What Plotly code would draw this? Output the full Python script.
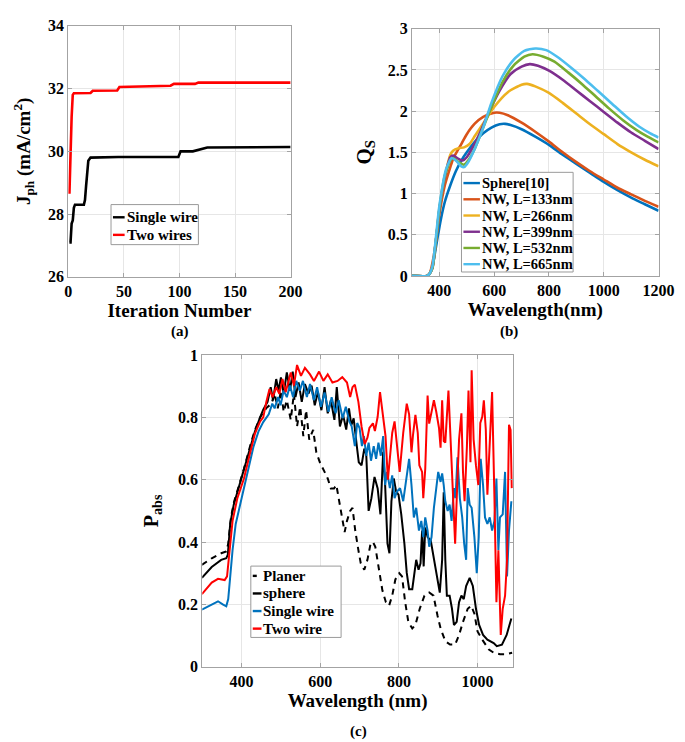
import plotly.graph_objects as go

# ---------------- Panel (a): photocurrent vs iteration ----------------
iter_single = [1, 2, 3, 4, 5, 6, 14, 15, 16, 17, 18, 20, 45, 99, 101, 112, 115, 120, 125, 200]
j_single = [27.1, 27.1, 27.7, 27.8, 28.2, 28.3, 28.3, 28.45, 28.9, 29.35, 29.7, 29.8, 29.82, 29.82, 30.0, 30.0,
            30.03, 30.09, 30.12, 30.14]
iter_two = [1, 2, 3, 4, 5, 20, 22, 44, 46, 92, 95, 114, 117, 200]
j_two = [28.65, 30.2, 31.1, 31.8, 31.85, 31.86, 31.93, 31.94, 32.05, 32.09, 32.15, 32.15, 32.19, 32.19]

# ---------------- Panel (b): scattering efficiency ----------------
qs_names = ["Sphere[10]", "NW, L=133nm", "NW, L=266nm", "NW, L=399nm", "NW, L=532nm", "NW, L=665nm"]
qs_colors = ["#0072BD", "#D95319", "#EDB120", "#7E2F8E", "#77AC30", "#4DBEEE"]
wl_sphere = [300, 355, 365, 375, 390, 405, 420, 440, 460, 480, 500, 530, 560, 590, 620, 640, 660, 700, 750, 800,
             850, 900, 950, 1000, 1050, 1100, 1150, 1200]
qs_sphere = [0, 0, 0.03, 0.12, 0.4, 0.68, 0.9, 1.1, 1.27, 1.4, 1.5, 1.63, 1.73, 1.8, 1.84, 1.845, 1.83, 1.78, 1.69,
             1.59, 1.47, 1.36, 1.25, 1.14, 1.04, 0.95, 0.87, 0.79]
wl_133 = [300, 355, 365, 380, 400, 420, 440, 450, 480, 500, 530, 560, 600, 620, 650, 700, 750, 800, 850, 900, 950,
          1000, 1050, 1100, 1150, 1200]
qs_133 = [0, 0, 0.03, 0.25, 0.75, 1.1, 1.32, 1.42, 1.6, 1.72, 1.85, 1.93, 1.98, 1.98, 1.95, 1.86, 1.75, 1.63, 1.5,
          1.38, 1.27, 1.17, 1.07, 0.99, 0.91, 0.84]
wl_266 = [300, 355, 365, 375, 400, 420, 440, 450, 470, 490, 510, 530, 560, 600, 650, 700, 720, 750, 800, 850, 900,
          950, 1000, 1050, 1100, 1150, 1200]
qs_266 = [0, 0, 0.03, 0.1, 0.8, 1.2, 1.47, 1.52, 1.55, 1.56, 1.6, 1.7, 1.85, 2.05, 2.23, 2.32, 2.33, 2.3, 2.22, 2.1,
          1.97, 1.84, 1.72, 1.6, 1.5, 1.41, 1.33]
wl_399 = [300, 355, 365, 375, 400, 420, 440, 450, 470, 485, 500, 520, 550, 580, 620, 660, 700, 730, 760, 800, 850,
          900, 950, 1000, 1050, 1100, 1150, 1200]
qs_399 = [0, 0, 0.03, 0.1, 0.8, 1.2, 1.44, 1.46, 1.42, 1.4, 1.44, 1.55, 1.75, 1.98, 2.25, 2.45, 2.54, 2.57, 2.55,
          2.49, 2.38, 2.25, 2.12, 1.99, 1.86, 1.74, 1.64, 1.54]
wl_532 = [300, 355, 365, 375, 400, 420, 440, 450, 470, 490, 505, 530, 560, 590, 630, 670, 710, 740, 780, 820, 870,
          920, 970, 1020, 1070, 1120, 1160, 1200]
qs_532 = [0, 0, 0.03, 0.1, 0.82, 1.22, 1.4, 1.43, 1.38, 1.35, 1.4, 1.55, 1.8, 2.05, 2.35, 2.55, 2.66, 2.69, 2.66,
          2.6, 2.47, 2.33, 2.18, 2.03, 1.89, 1.77, 1.69, 1.62]
wl_665 = [300, 355, 365, 375, 400, 425, 445, 460, 480, 490, 505, 530, 560, 590, 630, 670, 710, 750, 790, 830, 880,
          930, 980, 1030, 1080, 1130, 1170, 1200]
qs_665 = [0, 0, 0.03, 0.12, 0.85, 1.3, 1.43, 1.4, 1.33, 1.32, 1.38, 1.55, 1.8, 2.1, 2.42, 2.62, 2.73, 2.76, 2.74,
          2.66, 2.53, 2.39, 2.24, 2.09, 1.94, 1.81, 1.73, 1.68]
qs_wl = [wl_sphere, wl_133, wl_266, wl_399, wl_532, wl_665]
qs_val = [qs_sphere, qs_133, qs_266, qs_399, qs_532, qs_665]

# ---------------- Panel (c): absorption ----------------
planer_wl = [299, 324, 348, 361, 366, 373, 381, 393, 406, 422, 434, 447, 463, 476, 484, 492, 500, 507, 515, 525, 533,
             541, 549, 557, 564, 572, 582, 590, 599, 611, 619, 627, 635, 641, 648, 654, 662, 668, 676, 682, 689, 697,
             703, 712, 720, 728, 734, 740, 750, 758, 767, 775, 783, 791, 801, 808, 816, 824, 834, 842, 853, 865, 877,
             888, 898, 906, 918, 930, 943, 953, 963, 975, 984, 992, 1000, 1012, 1029, 1041, 1057, 1070, 1088]
planer_p = [.327, .348, .364, .37, .395, .48, .53, .58, .635, .71, .76, .80, .83, .844, .876, .829, .886, .818, .855,
            .792, .876, .771, .834, .74, .823, .729, .76, .688, .656, .625, .604, .572, .572, .583, .531, .479, .432,
            .468, .50, .51, .437, .374, .332, .311, .343, .395, .40, .385, .31, .245, .207, .196, .228, .28, .30, .29,
            .207, .144, .123, .134, .186, .228, .238, .228, .165, .123, .082, .071, .071, .102, .144, .186, .196, .17,
            .113, .087, .055, .045, .04, .04, .045]
sphere_wl = [299, 324, 348, 361, 365, 371, 380, 393, 406, 422, 434, 447, 455, 466, 474, 480, 488, 494, 500, 507, 515,
             523, 530, 537, 545, 553, 561, 570, 578, 586, 594, 603, 611, 619, 627, 636, 642, 650, 658, 666, 673, 679,
             685, 693, 698, 705, 712, 717, 723, 730, 738, 746, 753, 760, 765, 771, 776, 781, 787, 793, 799, 806, 814,
             820, 826, 834, 840, 844, 850, 855, 859, 863, 867, 873, 881, 889, 898, 904, 910, 914, 918, 922, 929, 935,
             940, 947, 953, 959, 965, 971, 980, 988, 996, 1004, 1014, 1025, 1041, 1049, 1062, 1074, 1086]
sphere_p = [.285, .32, .343, .348, .36, .458, .52, .578, .635, .705, .755, .80, .825, .85, .897, .855, .923, .886,
            .928, .876, .944, .886, .947, .865, .912, .85, .907, .876, .902, .839, .881, .823, .897, .813, .855, .792,
            .897, .771, .808, .761, .829, .775, .797, .708, .656, .646, .70, .68, .50, .54, .609, .572, .489, .69, .583,
            .395, .364, .531, .604, .562, .552, .489, .395, .301, .249, .249, .301, .343, .311, .332, .437, .322, .447,
            .416, .405, .343, .27, .238, .343, .56, .343, .228, .228, .186, .134, .144, .207, .228, .217, .259, .285,
            .259, .186, .134, .102, .087, .076, .066, .071, .102, .155]
single_wl = [299, 324, 340, 352, 361, 366, 371, 377, 385, 398, 414, 430, 443, 455, 469, 478, 484, 493, 499, 507, 515,
             523, 531, 539, 548, 556, 566, 574, 584, 592, 602, 611, 621, 629, 639, 647, 657, 665, 674, 680, 688, 694,
             700, 706, 711, 717, 723, 729, 736, 742, 748, 754, 760, 765, 770, 777, 783, 789, 795, 803, 811, 820, 826,
             832, 838, 844, 851, 857, 862, 867, 873, 877, 883, 889, 895, 900, 906, 910, 914, 918, 924, 929, 934, 940,
             944, 949, 955, 961, 966, 971, 975, 980, 985, 992, 998, 1003, 1008, 1014, 1019, 1025, 1031, 1037, 1043,
             1048, 1053, 1057, 1064, 1070, 1075, 1080, 1086]
single_p = [.183, .20, .21, .20, .194, .217, .29, .374, .458, .53, .614, .705, .755, .785, .81, .844, .829, .865, .839,
            .886, .865, .902, .865, .917, .886, .917, .865, .907, .855, .897, .834, .88, .818, .865, .813, .855, .797,
            .834, .787, .771, .708, .782, .766, .708, .74, .677, .719, .661, .708, .667, .719, .677, .74, .583, .625,
            .573, .614, .541, .562, .573, .531, .604, .667, .583, .479, .51, .437, .468, .416, .479, .437, .385, .416,
            .51, .583, .625, .593, .62, .583, .531, .50, .52, .468, .573, .541, .672, .541, .479, .395, .343, .573,
            .52, .51, .416, .30, .416, .667, .583, .479, .458, .479, .437, .468, .604, .374, .479, .489, .625, .29,
            .437, .531]
two_wl = [299, 324, 340, 357, 363, 369, 377, 389, 406, 422, 434, 447, 455, 463, 471, 479, 488, 496, 504, 512, 525,
          533, 541, 551, 561, 574, 584, 597, 608, 619, 631, 644, 656, 668, 676, 682, 688, 697, 705, 713, 720, 725, 734,
          739, 746, 752, 761, 766, 772, 777, 783, 789, 795, 802, 811, 820, 826, 832, 836, 842, 848, 852, 859, 862, 867,
          873, 877, 883, 889, 895, 902, 906, 910, 914, 918, 926, 932, 937, 943, 948, 953, 959, 963, 967, 973, 977, 982,
          985, 990, 996, 1002, 1007, 1012, 1016, 1021, 1025, 1029, 1037, 1043, 1048, 1053, 1059, 1064, 1070, 1075,
          1080, 1084, 1087]
two_p = [.233, .27, .282, .278, .29, .374, .468, .54, .604, .688, .748, .787, .80, .85, .891, .865, .897, .876, .923,
         .881, .944, .902, .968, .933, .959, .938, .917, .947, .917, .938, .912, .917, .929, .912, .865, .897, .905,
         .85, .771, .714, .735, .766, .781, .756, .802, .881, .792, .74, .60, .677, .75, .787, .708, .625, .75, .844,
         .81, .688, .745, .808, .75, .646, .625, .541, .635, .87, .78, .813, .855, .818, .766, .703, .855, .724, .719,
         .886, .708, .541, .395, .573, .729, .813, .625, .531, .708, .886, .656, .951, .729, .646, .583, .782, .802,
         .855, .761, .552, .656, .881, .541, .207, .374, .102, .186, .228, .343, .776, .76, .573]

W, H = 685, 742
FONT = "Liberation Serif, Times New Roman, serif"
AX = "#a3a3a3"
GRID = "#e6e6e6"


def px(x):
    return x / W


def py(y):
    return 1 - y / H


fig = go.Figure()

# panel (a)
fig.add_trace(go.Scatter(x=iter_single, y=j_single, mode="lines", line=dict(color="black", width=2.6),
                         name="Single wire", xaxis="x", yaxis="y", showlegend=False))
fig.add_trace(go.Scatter(x=iter_two, y=j_two, mode="lines", line=dict(color="#ff0000", width=2.6),
                         name="Two wires", xaxis="x", yaxis="y", showlegend=False))
# panel (b)
for wl, q, nm, col in zip(qs_wl, qs_val, qs_names, qs_colors):
    fig.add_trace(go.Scatter(x=wl, y=q, mode="lines", line=dict(color=col, width=2.6, shape="spline", smoothing=0.6),
                             name=nm, xaxis="x2", yaxis="y2", showlegend=False))
# panel (c)
fig.add_trace(go.Scatter(x=planer_wl, y=planer_p, mode="lines", line=dict(color="black", width=2, dash="6px,5px"),
                         name="Planer", xaxis="x3", yaxis="y3", showlegend=False))
fig.add_trace(go.Scatter(x=sphere_wl, y=sphere_p, mode="lines", line=dict(color="black", width=2),
                         name="sphere", xaxis="x3", yaxis="y3", showlegend=False))
fig.add_trace(go.Scatter(x=single_wl, y=single_p, mode="lines", line=dict(color="#0072BD", width=2),
                         name="Single wire", xaxis="x3", yaxis="y3", showlegend=False))
fig.add_trace(go.Scatter(x=two_wl, y=two_p, mode="lines", line=dict(color="#ff0000", width=2),
                         name="Two wire", xaxis="x3", yaxis="y3", showlegend=False))


def axis_style(tsize):
    return dict(showline=True, linecolor=AX, linewidth=1, mirror="ticks", ticks="inside", ticklen=4,
                tickcolor=AX, showgrid=True, gridcolor=GRID, gridwidth=1, zeroline=False,
                tickfont=dict(family=FONT, size=tsize, color="black", weight="bold"))


def title(text, size, standoff):
    return dict(text=text, font=dict(family=FONT, size=size, color="black", weight="bold"), standoff=standoff)


fig.update_layout(
    width=W, height=H, margin=dict(l=0, r=0, t=0, b=0), paper_bgcolor="white", plot_bgcolor="white",
    xaxis=dict(domain=[px(58), px(287)], range=[0, 200], dtick=50, anchor="y",
               title=title("Iteration Number", 19, 4), **axis_style(16)),
    yaxis=dict(domain=[py(267), py(10)], range=[26, 34], dtick=2, anchor="x",
               title=title("J<sub>ph</sub> (mA/cm<sup>2</sup>)", 19, 12), **axis_style(16)),
    xaxis2=dict(domain=[px(412), px(666)], range=[300, 1200], dtick=200, tick0=0, anchor="y2",
                title=title("Wavelength(nm)", 19, 4), **axis_style(16)),
    yaxis2=dict(domain=[py(266), py(13)], range=[0, 3], dtick=0.5, anchor="x2",
                title=title("Q<sub>S</sub>", 21, 10), **axis_style(16)),
    xaxis3=dict(domain=[px(196), px(516)], range=[300, 1090], dtick=200, tick0=0, anchor="y3",
                title=title("Wavelength (nm)", 19, 4), **axis_style(16)),
    yaxis3=dict(domain=[py(666), py(347)], range=[0, 1], dtick=0.2, anchor="x3",
                title=title("P<sub>abs</sub>", 20, 14), **axis_style(16)),
)

shapes = []
annots = []


def legend_box(x0, y0, x1, y1, items, sample, text_x, size):
    shapes.append(dict(type="rect", xref="paper", yref="paper", x0=px(x0), x1=px(x1), y0=py(y1), y1=py(y0),
                       line=dict(color="#9a9a9a", width=1), fillcolor="white", layer="above"))
    for (label, color, dash, yc) in items:
        shapes.append(dict(type="line", xref="paper", yref="paper", x0=px(sample[0]), x1=px(sample[1]),
                           y0=py(yc), y1=py(yc), line=dict(color=color, width=2.4, dash=dash), layer="above"))
        annots.append(dict(text=label, x=px(text_x), y=py(yc), xref="paper", yref="paper", xanchor="left",
                           yanchor="middle", showarrow=False,
                           font=dict(family=FONT, size=size, color="black", weight="bold")))


legend_box(102, 193, 192, 234, [("Single wire", "black", "solid", 206), ("Two wires", "#ff0000", "solid", 224)],
           (104, 116), 116, 15)
legend_box(463, 160, 578, 262,
           [(nm, col, "solid", 171 + 16.6 * i) for i, (nm, col) in enumerate(zip(qs_names, qs_colors))],
           (465, 482), 482, 14.5)
legend_box(246, 563, 339, 636,
           [("Planer", "black", "4px,5px", 573), ("sphere", "black", "solid", 591),
            ("Single wire", "#0072BD", "solid", 609), ("Two wire", "#ff0000", "solid", 627)],
           (248, 257), 257, 15)

for lab, x, y in [("(a)", 173, 323), ("(b)", 512, 323), ("(c)", 357, 732)]:
    annots.append(dict(text=lab, x=px(x), y=py(y), xref="paper", yref="paper", xanchor="center", yanchor="middle",
                       showarrow=False, font=dict(family=FONT, size=15, color="black", weight="bold")))

fig.update_layout(shapes=shapes, annotations=annots)
fig.write_html("out.html")
